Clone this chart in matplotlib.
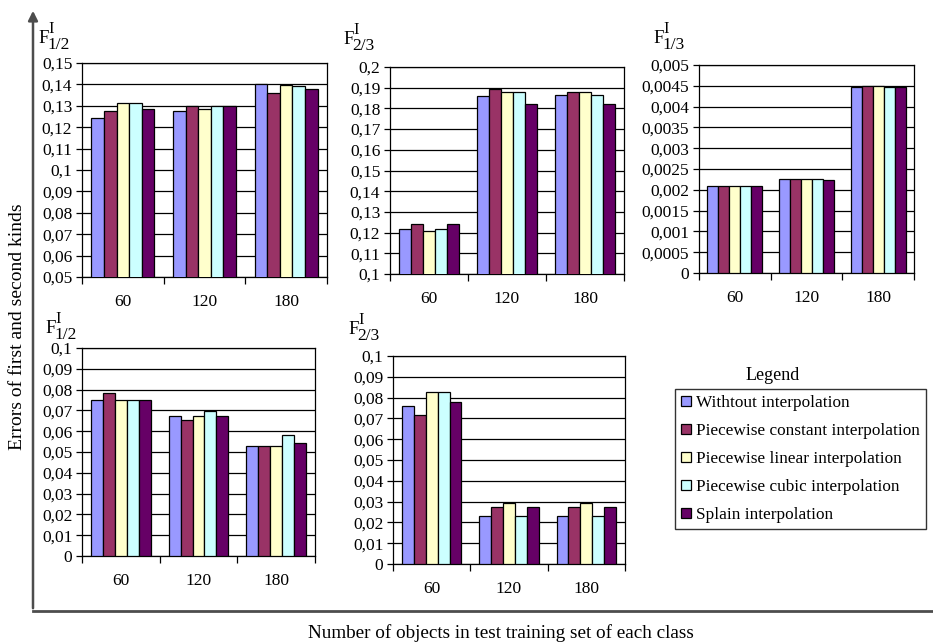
import matplotlib.pyplot as plt
from matplotlib.patches import Patch, FancyArrowPatch
from matplotlib.lines import Line2D
import numpy as np

plt.rcParams['font.family'] = ['Liberation Serif', 'DejaVu Serif']

# categories and series
groups = ['60', '120', '180']
methods = ['Withtout interpolation', 'Piecewise constant interpolation',
           'Piecewise linear interpolation', 'Piecewise cubic interpolation',
           'Splain interpolation']
colors = ['#9999FF', '#993366', '#FFFFCC', '#CCFFFF', '#660066']

# values per panel: rows = groups (60, 120, 180), cols = methods
f12_top = [[0.1245, 0.1277, 0.1312, 0.1312, 0.1286],
           [0.1277, 0.1297, 0.1285, 0.1297, 0.1297],
           [0.1403, 0.1358, 0.1397, 0.1392, 0.1378]]
f23_top = [[0.1219, 0.1240, 0.1207, 0.1219, 0.1240],
           [0.1858, 0.1895, 0.1879, 0.1879, 0.1823],
           [0.1865, 0.1879, 0.1879, 0.1865, 0.1823]]
f13_top = [[0.0021, 0.0021, 0.0021, 0.0021, 0.0021],
           [0.00226, 0.00226, 0.00226, 0.00226, 0.00224],
           [0.00447, 0.0045, 0.0045, 0.00447, 0.00447]]
f12_bot = [[0.0748, 0.0783, 0.0748, 0.0748, 0.0748],
           [0.0674, 0.0653, 0.0674, 0.0695, 0.0674],
           [0.0529, 0.0529, 0.0529, 0.0584, 0.0543]]
f23_bot = [[0.0760, 0.0718, 0.0829, 0.0829, 0.0780],
           [0.0231, 0.0272, 0.0295, 0.0231, 0.0272],
           [0.0231, 0.0272, 0.0295, 0.0231, 0.0272]]

# y tick labels
yt_f12_top = ['0,05', '0,06', '0,07', '0,08', '0,09', '0,1', '0,11', '0,12', '0,13', '0,14', '0,15']
yt_f23_top = ['0,1', '0,11', '0,12', '0,13', '0,14', '0,15', '0,16', '0,17', '0,18', '0,19', '0,2']
yt_f13_top = ['0', '0,0005', '0,001', '0,0015', '0,002', '0,0025', '0,003', '0,0035', '0,004', '0,0045', '0,005']
yt_bot = ['0', '0,01', '0,02', '0,03', '0,04', '0,05', '0,06', '0,07', '0,08', '0,09', '0,1']

W, H = 933, 644
fig = plt.figure(figsize=(W / 100, H / 100), dpi=100)


def px_axes(x0, y0, x1, y1):
    return fig.add_axes([x0 / W, 1 - y1 / H, (x1 - x0) / W, (y1 - y0) / H])


def ptext(x, y, s, **kw):
    return fig.text(x / W, 1 - y / H, s, **kw)


panels = [
    ((82, 63, 327, 277), f12_top, yt_f12_top, (0.05, 0.15), '1/2', (38, 43)),
    ((390, 67, 624, 274), f23_top, yt_f23_top, (0.1, 0.2), '2/3', (343, 44)),
    ((699, 65, 914, 273), f13_top, yt_f13_top, (0.0, 0.005), '1/3', (653, 43)),
    ((82, 348, 315, 556), f12_bot, yt_bot, (0.0, 0.1), '1/2', (45, 333)),
    ((393, 356, 625, 564), f23_bot, yt_bot, (0.0, 0.1), '2/3', (348, 334)),
]

n = len(methods)
bw = 1 / (n + 1.5)
x = np.arange(len(groups))

for box, vals, ylabels, ylim, sub, tpos in panels:
    ax = px_axes(*box)
    vals = np.array(vals)
    for j in range(n):
        ax.bar(x + (j - (n - 1) / 2) * bw, vals[:, j], width=bw, color=colors[j],
               edgecolor='black', linewidth=0.9, zorder=3)
    ax.set_xlim(-0.5, len(groups) - 0.5)
    ax.set_ylim(*ylim)
    yt = np.linspace(ylim[0], ylim[1], len(ylabels))
    ax.set_yticks(yt)
    ax.set_yticklabels(ylabels, fontsize=12.5)
    for v in yt:
        ax.axhline(v, color='black', linewidth=0.9, zorder=1)
    ax.set_xticks(np.arange(-0.5, len(groups)))
    ax.set_xticklabels([])
    ax.set_xticks(x, minor=True)
    ax.set_xticklabels(groups, minor=True, fontsize=12.5)
    ax.tick_params(axis='x', which='major', direction='out', length=5, width=0.9)
    ax.tick_params(axis='x', which='minor', length=0, pad=12)
    ax.tick_params(axis='y', direction='out', length=4, width=0.9, pad=3)
    for s in ax.spines.values():
        s.set_color('black')
        s.set_linewidth(0.9)
    # panel title F with superscript I and subscript
    tx, ty = tpos
    ptext(tx, ty, 'F', fontsize=13.5, va='baseline', ha='left')
    ptext(tx + 10, ty - 10, 'I', fontsize=12, va='baseline', ha='left')
    ptext(tx + 9, ty + 6, sub, fontsize=12.5, va='baseline', ha='left')

# axis arrows
fig.add_artist(FancyArrowPatch((33 / W, 1 - 611 / H), (33 / W, 1 - 8 / H),
                               transform=fig.transFigure, arrowstyle='-|>',
                               mutation_scale=14, color='#4d4d4d', linewidth=1.8))
fig.add_artist(Line2D([33 / W, 932 / W], [1 - 611 / H, 1 - 611 / H],
                      transform=fig.transFigure, color='#4d4d4d', linewidth=2))

ptext(18, 327, 'Errors of first and second kinds', rotation=90,
      ha='center', va='center', fontsize=14)
ptext(501, 633, 'Number of objects in test training set of each class',
      ha='center', va='center', fontsize=13.8)

# legend
ptext(773, 375, 'Legend', ha='center', va='center', fontsize=13)
handles = [Patch(facecolor=c, edgecolor='black', linewidth=0.9) for c in colors]
leg = fig.legend(handles, methods, loc='upper left', bbox_to_anchor=(675 / W, 1 - 389 / H),
                 fontsize=12.4, frameon=True, fancybox=False, edgecolor='black',
                 handlelength=0.55, handleheight=0.55, handletextpad=0.3,
                 labelspacing=0.7, borderpad=0.35, borderaxespad=0)
leg.get_frame().set_linewidth(1.0)

fig.savefig('out.png', dpi=100)
